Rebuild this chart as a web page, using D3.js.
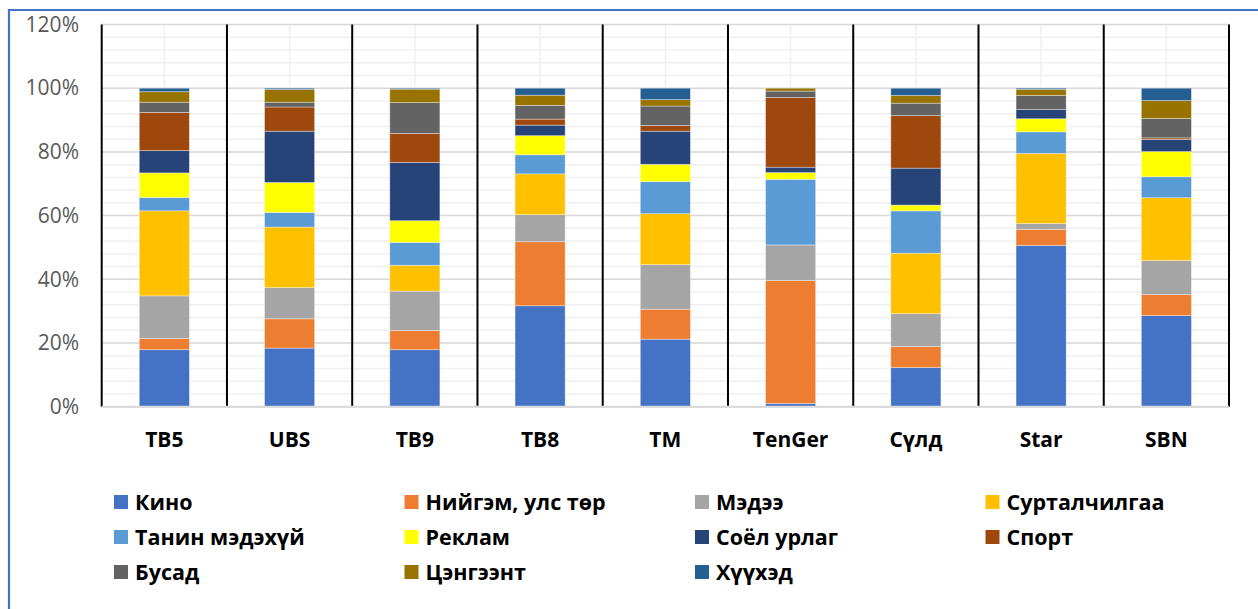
<!DOCTYPE html>
<html>
<head>
<meta charset="utf-8">
<script src="https://cdn.jsdelivr.net/npm/d3@7"></script>
<style>
  body { margin: 0; background: #fff; }
  svg { display: block; font-family: "Open Sans", "Noto Sans", sans-serif; }
</style>
</head>
<body>
<div id="chart"></div>
<script>
// channels along the x axis
var channels = ['TB5', 'UBS', 'TB9', 'TB8', 'TM', 'TenGer', 'Сүлд', 'Star', 'SBN'];

// share of airtime by genre, percent
var kino      = [17.9, 18.4, 17.9, 31.7, 21.2, 1.0, 12.3, 50.6, 28.6];
var niigem    = [3.5, 9.2, 6.0, 20.1, 9.4, 38.6, 6.6, 5.1, 6.6];
var medee     = [13.4, 9.8, 12.4, 8.5, 14.0, 11.2, 10.3, 1.8, 10.7];
var surtal    = [26.7, 19.0, 8.1, 12.8, 16.0, 0, 19.0, 22.0, 19.7];
var tanin     = [4.2, 4.6, 7.2, 6.0, 10.1, 20.6, 13.3, 6.8, 6.6];
var reklam    = [7.7, 9.4, 6.8, 6.0, 5.4, 2.1, 1.8, 4.1, 7.9];
var soyol     = [7.0, 16.1, 18.3, 3.3, 10.4, 1.7, 11.6, 2.9, 3.8];
var sport     = [12.0, 7.6, 9.1, 1.9, 1.8, 21.9, 16.5, 0, 0.5];
var busad     = [3.2, 1.5, 9.7, 4.3, 6.1, 2.0, 3.9, 4.4, 6.1];
var tsengeent = [3.3, 4.0, 4.2, 3.2, 2.0, 0.9, 2.4, 1.9, 5.6];
var khuukhed  = [1.1, 0.4, 0.3, 2.2, 3.6, 0, 2.3, 0.4, 3.9];

var seriesNames = ['Кино', 'Нийгэм, улс төр', 'Мэдээ', 'Сурталчилгаа', 'Танин мэдэхүй',
  'Реклам', 'Соёл урлаг', 'Спорт', 'Бусад', 'Цэнгээнт', 'Хүүхэд'];
var seriesValues = [kino, niigem, medee, surtal, tanin, reklam, soyol, sport, busad, tsengeent, khuukhed];
var colors = ['#4472c4', '#ed7d31', '#a5a5a5', '#ffc000', '#5b9bd5',
  '#ffff00', '#264478', '#9e480e', '#636363', '#997300', '#255e91'];

var yTicks = [0, 0.2, 0.4, 0.6, 0.8, 1.0, 1.2];

(function () {
  var W = 1258, H = 609;
  var mLeft = 101.7, mRight = 1229, mTop = 24.5, mBottom = 406.7;

  var svg = d3.select('#chart').append('svg')
    .attr('width', W).attr('height', H);

  // outer frame (only top and left edges show)
  svg.append('path')
    .attr('d', 'M9,' + H + ' L9,10 L' + (W + 5) + ',10')
    .attr('fill', 'none')
    .attr('stroke', '#4472c4')
    .attr('stroke-width', 2.2);

  // per-channel rows for the stack
  var rows = channels.map(function (c, i) {
    var r = { channel: c };
    seriesNames.forEach(function (s, j) { r[s] = seriesValues[j][i] / 100; });
    return r;
  });

  var x = d3.scaleBand().domain(channels).range([mLeft, mRight]);
  var y = d3.scaleLinear().domain([0, 1.2]).range([mBottom, mTop]);
  var color = d3.scaleOrdinal().domain(seriesNames).range(colors);

  // minor horizontal gridlines every 4%
  var minor = d3.range(0, 1.2001, 0.04);
  svg.append('g').selectAll('line')
    .data(minor)
    .enter().append('line')
    .attr('x1', mLeft).attr('x2', mRight)
    .attr('y1', function (d) { return y(d); })
    .attr('y2', function (d) { return y(d); })
    .attr('stroke', '#f0f0f0')
    .attr('stroke-width', 1.5);

  // minor vertical gridlines through the bar centres
  svg.append('g').selectAll('line')
    .data(channels)
    .enter().append('line')
    .attr('x1', function (d) { return x(d) + x.bandwidth() / 2; })
    .attr('x2', function (d) { return x(d) + x.bandwidth() / 2; })
    .attr('y1', mTop).attr('y2', mBottom)
    .attr('stroke', '#f0f0f0')
    .attr('stroke-width', 1.5);

  // major horizontal gridlines
  svg.append('g').selectAll('line')
    .data(yTicks)
    .enter().append('line')
    .attr('x1', mLeft).attr('x2', mRight)
    .attr('y1', function (d) { return y(d); })
    .attr('y2', function (d) { return y(d); })
    .attr('stroke', '#d9d9d9')
    .attr('stroke-width', 1.5);

  // black category separators
  var seps = channels.map(function (c) { return x(c); }).concat([mRight]);
  svg.append('g').selectAll('line')
    .data(seps)
    .enter().append('line')
    .attr('x1', function (d) { return d; })
    .attr('x2', function (d) { return d; })
    .attr('y1', mTop).attr('y2', mBottom)
    .attr('stroke', '#000')
    .attr('stroke-width', 2);

  // stacked bars
  var layers = d3.stack().keys(seriesNames)(rows);
  var barW = x.bandwidth() * 0.4;

  svg.append('g').selectAll('g')
    .data(layers)
    .enter().append('g')
    .attr('fill', function (d) { return color(d.key); })
    .selectAll('rect')
    .data(function (d) { return d; })
    .enter().append('rect')
    .attr('x', function (d) { return x(d.data.channel) + (x.bandwidth() - barW) / 2; })
    .attr('width', barW)
    .attr('y', function (d) { return y(d[1]); })
    .attr('height', function (d) { return Math.max(0, y(d[0]) - y(d[1])); })
    .attr('stroke', 'rgba(255,255,255,0.45)')
    .attr('stroke-width', 0.8);

  // bottom axis line
  svg.append('line')
    .attr('x1', mLeft).attr('x2', mRight)
    .attr('y1', mBottom).attr('y2', mBottom)
    .attr('stroke', '#d9d9d9')
    .attr('stroke-width', 2);

  // y axis labels
  var yAxis = d3.axisLeft(y).tickValues(yTicks).tickFormat(d3.format('.0%')).tickSize(0).tickPadding(0);
  var yg = svg.append('g')
    .attr('transform', 'translate(79,0)')
    .call(yAxis);
  yg.select('.domain').remove();
  yg.selectAll('text')
    .attr('fill', '#595959')
    .style('font-size', '21px')
    .style('font-family', '"Open Sans", sans-serif');

  // x axis labels
  var xAxis = d3.axisBottom(x).tickSize(0).tickPadding(0);
  var xg = svg.append('g')
    .attr('transform', 'translate(0,' + (mBottom + 25) + ')')
    .call(xAxis);
  xg.select('.domain').remove();
  xg.selectAll('text')
    .attr('fill', '#000')
    .style('font-size', '21px')
    .style('font-weight', 'bold')
    .style('font-family', '"Open Sans", sans-serif');

  // legend, four columns
  var legend = svg.append('g').selectAll('g')
    .data(seriesNames)
    .enter().append('g')
    .attr('transform', function (d, i) {
      var col = i % 4, row = Math.floor(i / 4);
      return 'translate(' + (114 + col * 290.5) + ',' + (502 + row * 35) + ')';
    });

  legend.append('rect')
    .attr('x', 0).attr('y', -7)
    .attr('width', 14).attr('height', 14)
    .attr('fill', function (d) { return color(d); });

  legend.append('text')
    .attr('x', 21).attr('y', 0)
    .attr('dy', '0.35em')
    .style('font-size', '21.5px')
    .style('font-weight', 'bold')
    .attr('fill', '#000')
    .text(function (d) { return d; });
})();
</script>
</body>
</html>
